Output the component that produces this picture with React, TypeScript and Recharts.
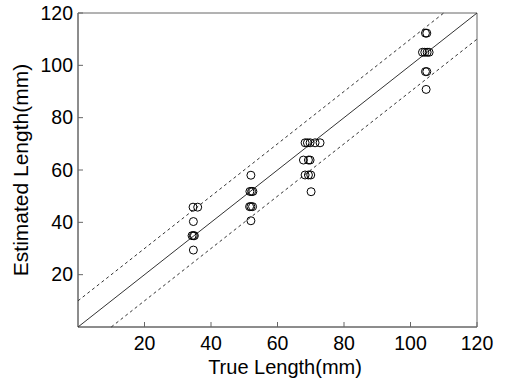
import { ScatterChart, Scatter, XAxis, YAxis, ReferenceArea } from 'recharts';

const trueLen = [
  34.6, 36.0, 34.7, 34.3, 34.7, 35.0, 34.7,
  52.0, 51.7, 52.2, 52.6, 51.6, 52.0, 52.5, 52.0,
  68.3, 69.0, 69.8, 71.3, 72.8, 67.8, 69.3, 69.8, 68.3, 69.3, 70.0, 70.1,
  104.5, 104.9, 103.6, 104.3, 105.0, 105.6, 104.5, 104.9, 104.7,
];
// estimated length (mm), same order
const estLen = [
  45.8, 45.8, 40.3, 34.9, 34.9, 34.9, 29.4,
  58.0, 51.8, 51.8, 51.8, 46.0, 46.0, 46.0, 40.6,
  70.4, 70.4, 70.4, 70.4, 70.4, 63.8, 63.8, 63.8, 58.1, 58.1, 58.1, 51.7,
  112.3, 112.3, 105.0, 105.0, 105.0, 105.0, 97.6, 97.6, 90.8,
];

const ticks = [20, 40, 60, 80, 100, 120];
const identityLine = [{ x: 0, y: 0 }, { x: 120, y: 120 }];
const upperBound = [{ x: 0, y: 10 }, { x: 110, y: 120 }];
const lowerBound = [{ x: 10, y: 0 }, { x: 120, y: 110 }];

const points = trueLen.map((x, i) => ({ x, y: estLen[i] }));

const FONT = '"Liberation Sans", Arial, sans-serif';
const AXIS = '#666';

const XTick = ({ x, y, payload }: any) => (
  <g>
    <line x1={x} x2={x} y1={y - 9} y2={y - 14} stroke={AXIS} />
    <text x={x} y={y} dy="0.71em" textAnchor="middle" fontSize={19.5} fontFamily={FONT} fill="#000">
      {payload.value}
    </text>
  </g>
);

const YTick = ({ x, y, payload }: any) => (
  <g>
    <line x1={x + 5} x2={x + 10} y1={y} y2={y} stroke={AXIS} />
    <text x={x} y={y} dy="0.35em" textAnchor="end" fontSize={19.5} fontFamily={FONT} fill="#000">
      {payload.value}
    </text>
  </g>
);

const Ring = ({ cx, cy }: any) => <circle cx={cx} cy={cy} r={4} fill="none" stroke="#000" strokeWidth={1} />;
const NoDot = () => <g />;

export default function App() {
  return (
    <div style={{ position: 'absolute', left: 0, top: 0, width: 505, height: 381, background: '#fff' }}>
      <ScatterChart width={505} height={381} margin={{ top: 13, right: 28, bottom: 0, left: 0 }}>
        <XAxis
          type="number"
          dataKey="x"
          domain={[0, 120]}
          ticks={ticks}
          height={54}
          tickSize={0}
          tickMargin={9}
          tickLine={false}
          axisLine={{ stroke: AXIS }}
          tick={<XTick />}
          label={{
            content: () => (
              <text x={285} y={374} textAnchor="middle" fontSize={20} fontFamily={FONT} fill="#000">
                True Length(mm)
              </text>
            ),
          }}
        />
        <YAxis
          type="number"
          dataKey="y"
          domain={[0, 120]}
          ticks={ticks}
          width={78}
          tickSize={0}
          tickMargin={5}
          tickLine={false}
          axisLine={{ stroke: AXIS }}
          tick={<YTick />}
          label={{
            content: () => (
              <text x={28} y={170} transform="rotate(-90 28 170)" textAnchor="middle" fontSize={21} fontFamily={FONT} fill="#000">
                Estimated Length(mm)
              </text>
            ),
          }}
        />
        <ReferenceArea x1={0} x2={120} y1={0} y2={120} fill="none" stroke={AXIS} strokeOpacity={1} fillOpacity={0} />
        <Scatter data={identityLine} line={{ stroke: '#333', strokeWidth: 1 }} shape={<NoDot />} isAnimationActive={false} />
        <Scatter data={upperBound} line={{ stroke: '#333', strokeWidth: 1, strokeDasharray: '3 3' }} shape={<NoDot />} isAnimationActive={false} />
        <Scatter data={lowerBound} line={{ stroke: '#333', strokeWidth: 1, strokeDasharray: '3 3' }} shape={<NoDot />} isAnimationActive={false} />
        <Scatter data={points} shape={<Ring />} isAnimationActive={false} />
      </ScatterChart>
    </div>
  );
}
